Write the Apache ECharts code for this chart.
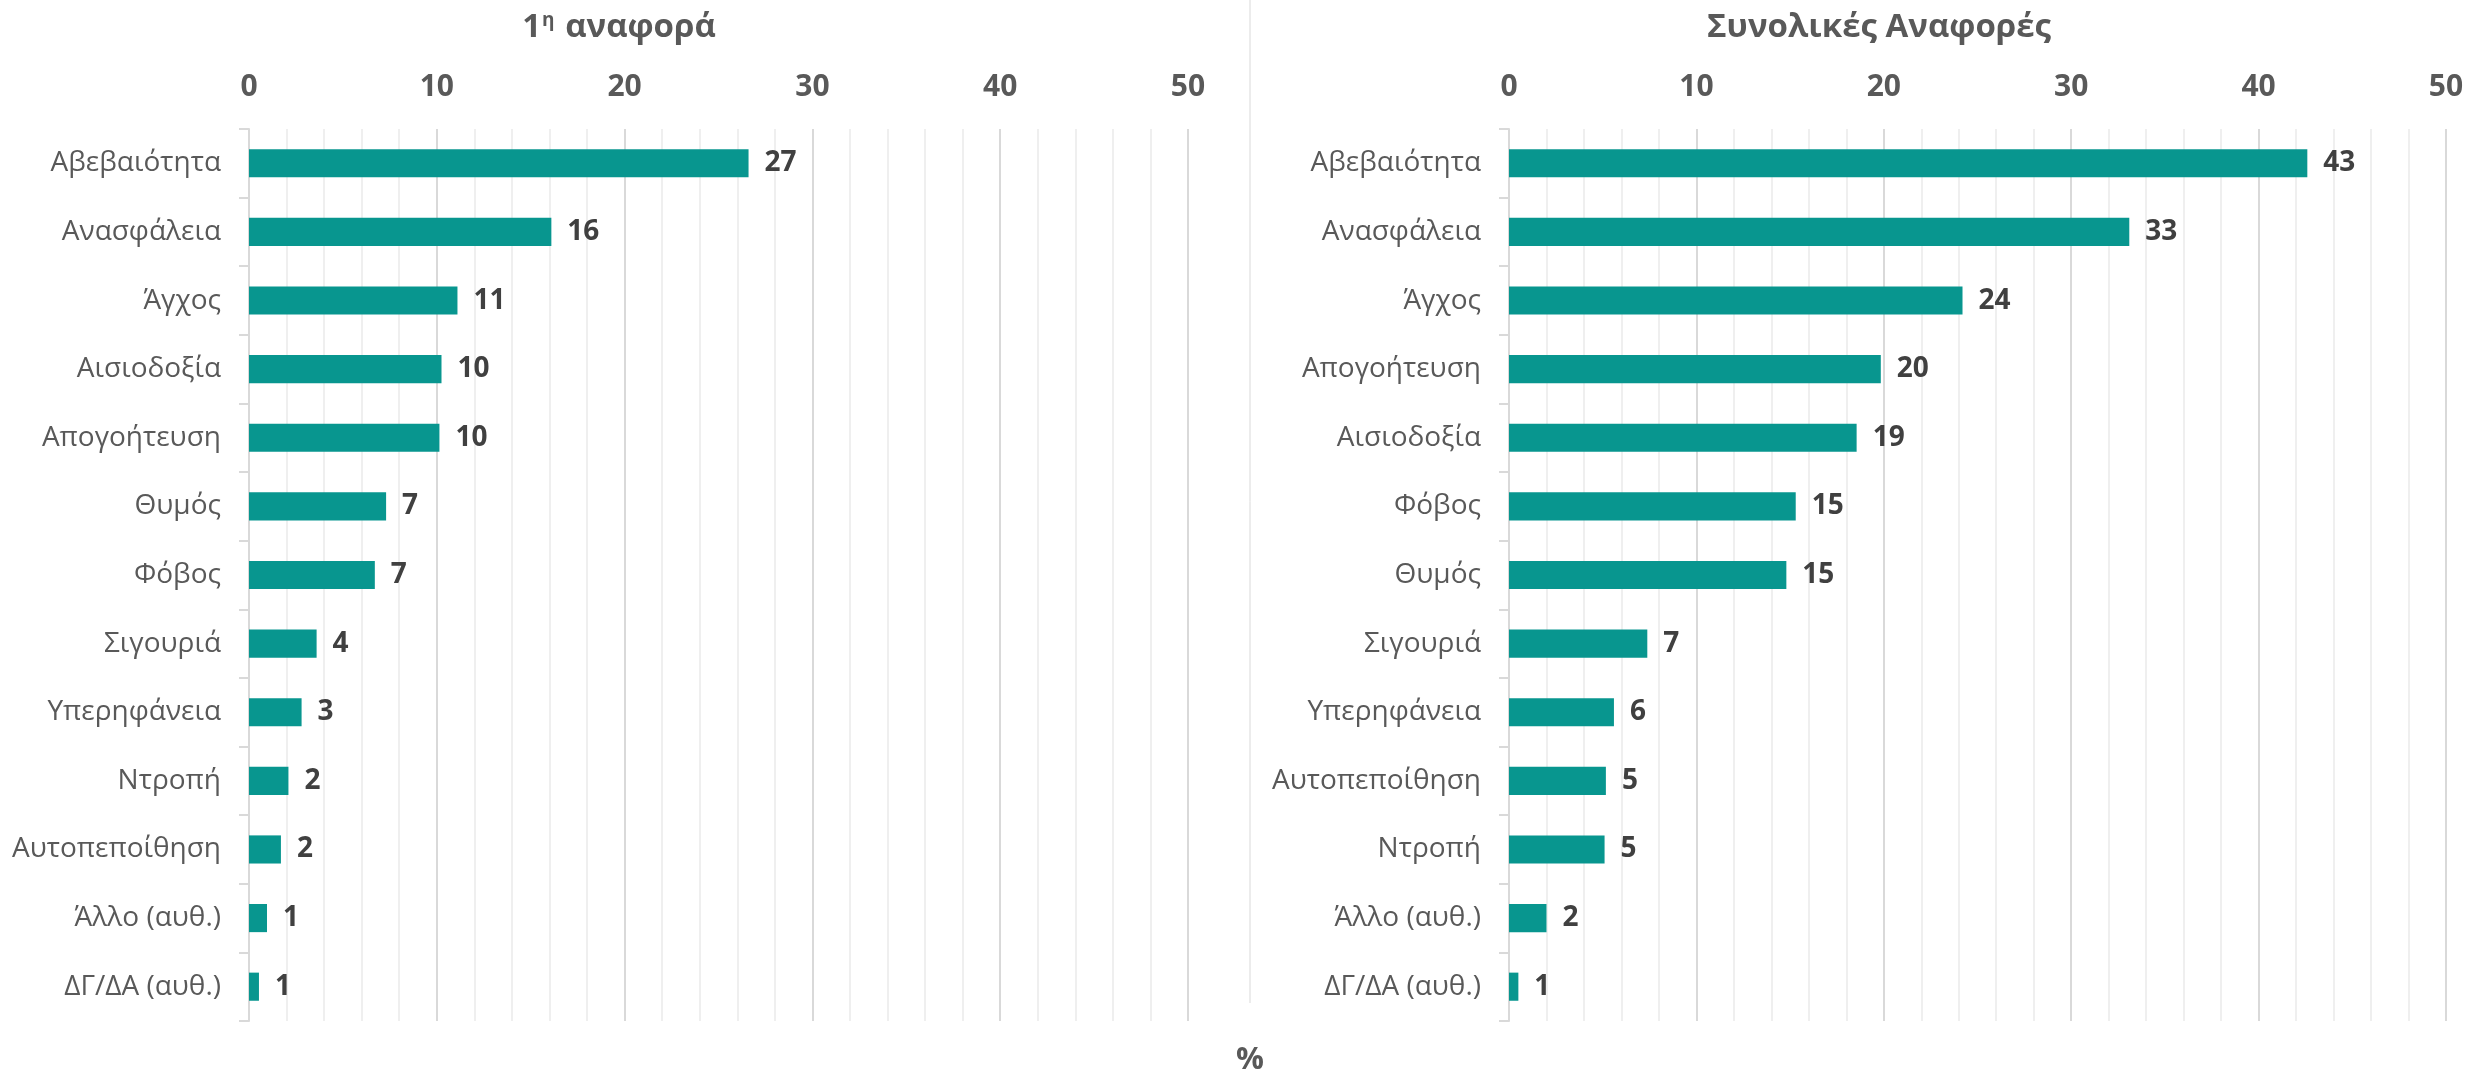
<!DOCTYPE html>
<html>
<head>
<meta charset="utf-8">
<script src="https://cdn.jsdelivr.net/npm/echarts@6/dist/echarts.min.js"></script>
<style>
html,body{margin:0;padding:0;background:#fff;}
#chart{width:2481px;height:1077px;}
</style>
</head>
<body>
<div id="chart"></div>
<script>
// ---- data ----
const leftTitle = '1η αναφορά';
const rightTitle = 'Συνολικές Αναφορές';
const axisUnit = '%';
const xTicks = [0, 10, 20, 30, 40, 50];

const leftCategories = ['Αβεβαιότητα','Ανασφάλεια','Άγχος','Αισιοδοξία','Απογοήτευση','Θυμός','Φόβος','Σιγουριά','Υπερηφάνεια','Ντροπή','Αυτοπεποίθηση','Άλλο (αυθ.)','ΔΓ/ΔΑ (αυθ.)'];
const leftValues = [26.6, 16.1, 11.1, 10.25, 10.14, 7.3, 6.7, 3.6, 2.8, 2.1, 1.7, 0.96, 0.53];
const leftLabels = [27, 16, 11, 10, 10, 7, 7, 4, 3, 2, 2, 1, 1];

const rightCategories = ['Αβεβαιότητα','Ανασφάλεια','Άγχος','Απογοήτευση','Αισιοδοξία','Φόβος','Θυμός','Σιγουριά','Υπερηφάνεια','Αυτοπεποίθηση','Ντροπή','Άλλο (αυθ.)','ΔΓ/ΔΑ (αυθ.)'];
const rightValues = [42.6, 33.1, 24.2, 19.84, 18.55, 15.3, 14.8, 7.38, 5.6, 5.17, 5.1, 2.0, 0.5];
const rightLabels = [43, 33, 24, 20, 19, 15, 15, 7, 6, 5, 5, 2, 1];

// ---- styles ----
const barColor = '#08968F';
const fontFam = '"Open Sans", "Noto Sans", sans-serif';

function xAxisDef(gridIndex) {
  return {
    type: 'value', gridIndex: gridIndex, position: 'top',
    min: xTicks[0], max: xTicks[xTicks.length - 1], interval: xTicks[1] - xTicks[0],
    axisLine: {show: false}, axisTick: {show: false},
    axisLabel: {color: '#595959', fontSize: 30, fontWeight: 'bold', fontFamily: fontFam, margin: 27},
    splitLine: {show: true, lineStyle: {color: '#d9d9d9', width: 2}},
    minorTick: {show: false, splitNumber: 5},
    minorSplitLine: {show: true, lineStyle: {color: '#efefef', width: 2}}
  };
}
function yAxisDef(gridIndex, cats) {
  return {
    type: 'category', gridIndex: gridIndex, data: cats, inverse: true,
    axisLine: {show: true, lineStyle: {color: '#d9d9d9', width: 2}},
    axisTick: {show: true, length: 10, lineStyle: {color: '#d9d9d9', width: 2}},
    axisLabel: {color: '#595959', fontSize: 28, fontFamily: fontFam, margin: 28}
  };
}
function seriesDef(idx, vals, labels) {
  return {
    type: 'bar', xAxisIndex: idx, yAxisIndex: idx, data: vals,
    barWidth: '41%', itemStyle: {color: barColor},
    label: {
      show: true, position: 'right', distance: 16,
      color: '#404040', fontSize: 28, fontWeight: 'bold', fontFamily: fontFam,
      formatter: p => String(labels[p.dataIndex])
    },
    silent: true, animation: false
  };
}

const chart = echarts.init(document.getElementById('chart'), null, {renderer: 'canvas'});
chart.setOption({
  animation: false,
  backgroundColor: '#ffffff',
  title: [
    {
      text: '1{sup|η} αναφορά', left: 614, top: 6, textAlign: 'center',
      textStyle: {
        color: '#595959', fontSize: 33, fontWeight: 'bold', fontFamily: fontFam,
        rich: {sup: {fontSize: 19, fontWeight: 'bold', color: '#595959', fontFamily: fontFam, verticalAlign: 'top', padding: [0, 2, 15, 1]}}
      }
    },
    {
      text: rightTitle, left: 1874, top: 6, textAlign: 'center',
      textStyle: {color: '#595959', fontSize: 33, fontWeight: 'bold', fontFamily: fontFam}
    }
  ],
  grid: [
    {left: 249, right: 2481 - 1188, top: 129, bottom: 1077 - 1021, containLabel: false},
    {left: 1509, right: 2481 - 2446, top: 129, bottom: 1077 - 1021, containLabel: false}
  ],
  xAxis: [xAxisDef(0), xAxisDef(1)],
  yAxis: [yAxisDef(0, leftCategories), yAxisDef(1, rightCategories)],
  series: [seriesDef(0, leftValues, leftLabels), seriesDef(1, rightValues, rightLabels)],
  graphic: [
    {type: 'line', shape: {x1: 1250, y1: 0, x2: 1250, y2: 1003}, style: {stroke: '#d9d9d9', lineWidth: 1}},
    {type: 'text', x: 1250, y: 1060, style: {text: axisUnit, fill: '#595959', font: 'bold 31px ' + fontFam, textAlign: 'center', textVerticalAlign: 'middle'}}
  ]
});
</script>
</body>
</html>
